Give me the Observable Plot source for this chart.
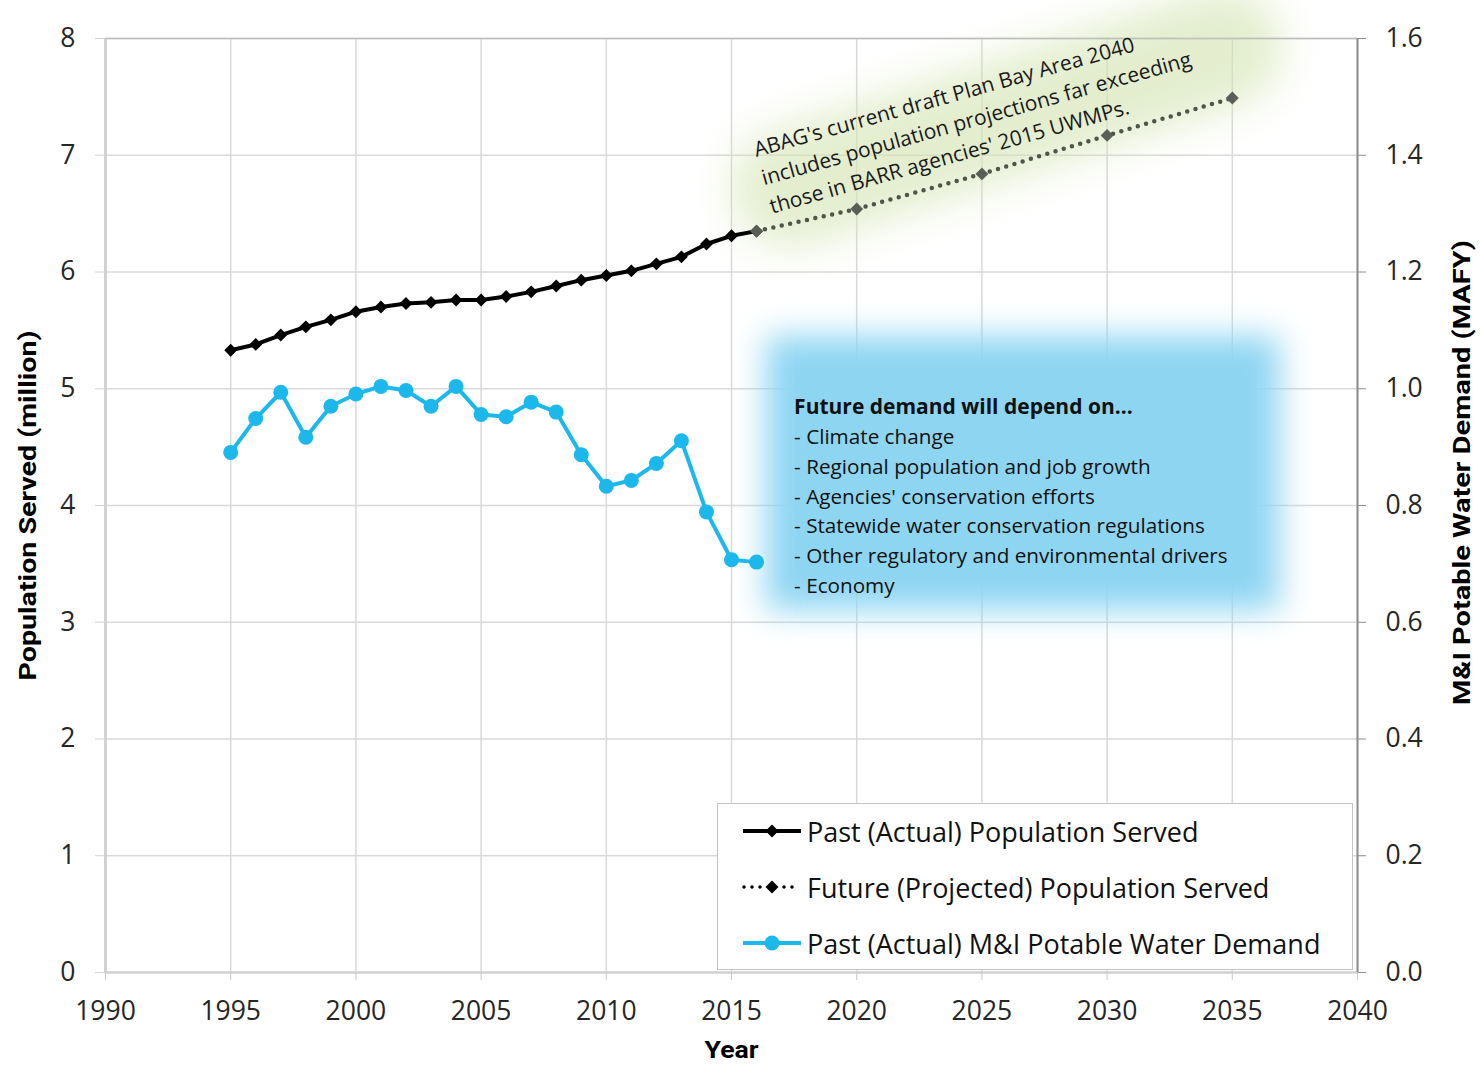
<!DOCTYPE html>
<html>
<head>
<meta charset="utf-8">
<script src="https://cdn.jsdelivr.net/npm/d3@7"></script>
<script src="https://cdn.jsdelivr.net/npm/@observablehq/plot@0.6"></script>
<style>
  body { margin: 0; background: #fff; }
  #chart { position: relative; width: 1480px; height: 1072px; overflow: hidden; }
  #chart svg { overflow: visible; }
  .legend {
    position: absolute; left: 717px; top: 803px; width: 636px; height: 167px;
    box-sizing: border-box; border: 1.5px solid #c4c4c4; background: #fff;
    font-family: "Open Sans", Lato, sans-serif; font-size: 27px; color: #111;
  }
  .legend .row { position: absolute; left: 24px; height: 30px; display: flex; align-items: center; white-space: nowrap; }
  .legend svg { margin-right: 5px; }
</style>
</head>
<body>
<div id="chart"></div>
<script>
// Population served by BARR agencies (million) and M&I potable water demand (MAFY)
const years = [1995, 1996, 1997, 1998, 1999, 2000, 2001, 2002, 2003, 2004, 2005,
               2006, 2007, 2008, 2009, 2010, 2011, 2012, 2013, 2014, 2015, 2016];
const populationServed = [5.33, 5.38, 5.46, 5.53, 5.59, 5.66, 5.70, 5.73, 5.74, 5.76, 5.76,
                          5.79, 5.83, 5.88, 5.93, 5.97, 6.01, 6.07, 6.13, 6.24, 6.31, 6.35];
const demandMAFY = [0.891, 0.949, 0.994, 0.917, 0.970, 0.991, 1.004, 0.997, 0.970, 1.004, 0.956,
                    0.952, 0.977, 0.960, 0.887, 0.833, 0.843, 0.872, 0.911, 0.789, 0.707, 0.703];

const projectionYears = [2016, 2020, 2025, 2030, 2035];
const projectedPopulation = [6.35, 6.54, 6.84, 7.17, 7.49];

const xTicks = [1990, 1995, 2000, 2005, 2010, 2015, 2020, 2025, 2030, 2035, 2040];
const populationTicks = [0, 1, 2, 3, 4, 5, 6, 7, 8];
const demandTicks = [0, 0.2, 0.4, 0.6, 0.8, 1.0, 1.2, 1.4, 1.6];

const abagNote = [
  "ABAG's current draft Plan Bay Area 2040",
  "includes population projections far exceeding",
  "those in BARR agencies' 2015 UWMPs."
];
const demandNoteTitle = "Future demand will depend on...";
const demandNoteItems = [
  "- Climate change",
  "- Regional population and job growth",
  "- Agencies' conservation efforts",
  "- Statewide water conservation regulations",
  "- Other regulatory and environmental drivers",
  "- Economy"
];

const legendLabels = [
  "Past (Actual) Population Served",
  "Future (Projected) Population Served",
  "Past (Actual) M&I Potable Water Demand"
];

const axisTitles = {
  left: "Population Served (million)",
  right: "M&I Potable Water Demand (MAFY)",
  bottom: "Year"
};

// 1.0 MAFY on the right axis sits level with 5 million people on the left
const PEOPLE_PER_MAFY = 5;

const BLUE = "#1cb8eb";
const FUTURE_GREY = "#50554b";
const SANS = "'Open Sans', Lato, sans-serif";

const past = years.map((year, i) => ({year, population: populationServed[i], demand: demandMAFY[i]}));
const projected = projectionYears.map((year, i) => ({year, population: projectedPopulation[i]}));

// soft highlights behind the two notes
const abagGlow = [{x1: 2017.4, y1: 6.72, x2: 2034.6, y2: 7.92}];
const demandGlow = [{x1: 2016.4, x2: 2036.9, y1: 3.1, y2: 5.45}];

const tickFont = {fontFamily: SANS, fontSize: 26.5, fill: "#262626"};
const titleFont = {fontFamily: "Roboto, 'Open Sans', sans-serif", fontSize: 24, fontWeight: "bold", fill: "#000"};

const chart = Plot.plot({
  width: 1480,
  height: 1072,
  marginLeft: 105,
  marginRight: 123,
  marginTop: 38,
  marginBottom: 100,
  x: {domain: [1990, 2040]},
  y: {domain: [0, 8]},
  style: {fontFamily: SANS, fontSize: "25px", color: "#262626", background: "#fff"},
  marks: [
    Plot.gridX(xTicks, {stroke: "#d9d9d9", strokeOpacity: 1, strokeWidth: 1.5}),
    Plot.gridY(populationTicks, {stroke: "#d9d9d9", strokeOpacity: 1, strokeWidth: 1.5}),

    Plot.link(abagGlow, {x1: "x1", y1: "y1", x2: "x2", y2: "y2", stroke: "#d3e4b2", strokeOpacity: 0.62,
      strokeWidth: 120, strokeLinecap: "round", imageFilter: "blur(20px)"}),
    Plot.rect(demandGlow, {x1: "x1", x2: "x2", y1: "y1", y2: "y2", fill: "#8ed5f2", imageFilter: "blur(16px)"}),

    // axis lines
    Plot.ruleX([1990], {stroke: "#d2d2d2", strokeWidth: 3}),
    Plot.ruleY([0], {stroke: "#d2d2d2", strokeWidth: 2.5}),
    Plot.ruleY([8], {stroke: "#bdbdbd", strokeWidth: 1.5}),
    Plot.ruleX([2040], {stroke: "#8c8c8c", strokeWidth: 2}),

    Plot.axisX(xTicks, {anchor: "bottom", tickSize: 8, tickPadding: 21, stroke: "#c8c8c8",
      tickFormat: d => String(d), label: null, ...tickFont}),
    Plot.axisY(populationTicks, {anchor: "left", tickSize: 10, tickPadding: 20, stroke: "#d2d2d2",
      tickFormat: d => String(d), label: null, ...tickFont}),
    Plot.axisY(demandTicks.map(v => v * PEOPLE_PER_MAFY), {anchor: "right", tickSize: 8, tickPadding: 20,
      stroke: "#8c8c8c", tickFormat: d => (d / PEOPLE_PER_MAFY).toFixed(1), label: null, ...tickFont}),

    // M&I potable water demand (right axis)
    Plot.line(past, {x: "year", y: d => d.demand * PEOPLE_PER_MAFY, stroke: BLUE, strokeWidth: 4}),
    Plot.dot(past, {x: "year", y: d => d.demand * PEOPLE_PER_MAFY, r: 7.5, fill: BLUE}),

    // population served, actual and projected
    Plot.line(past, {x: "year", y: "population", stroke: "#000", strokeWidth: 4}),
    Plot.dot(past, {x: "year", y: "population", symbol: "diamond2", r: 5.8, fill: "#000"}),
    Plot.line(projected, {x: "year", y: "population", stroke: FUTURE_GREY, strokeWidth: 4.5,
      strokeDasharray: "0 8.6", strokeLinecap: "round"}),
    Plot.dot(projected, {x: "year", y: "population", symbol: "diamond2", r: 5.8, fill: "#5a5e56"}),

    // notes
    Plot.text([abagNote.join("\n")], {x: 2016.2, y: 6.82, rotate: -15.6, textAnchor: "start",
      lineAnchor: "middle", lineHeight: 1.4, fontFamily: SANS, fontSize: 21, fill: "#1a1a1a"}),
    Plot.text([demandNoteTitle], {x: 2017.5, y: 4.84, textAnchor: "start", lineAnchor: "middle",
      fontFamily: SANS, fontSize: 21, fontWeight: "bold", fill: "#111"}),
    Plot.text([demandNoteItems.join("\n")], {x: 2017.5, y: 3.97, textAnchor: "start", lineAnchor: "middle",
      lineHeight: 1.44, fontFamily: SANS, fontSize: 20.7, fill: "#111"}),

    // axis titles
    Plot.text([axisTitles.left], {frameAnchor: "left", rotate: -90, dx: -77, textAnchor: "middle", ...titleFont}),
    Plot.text([axisTitles.right], {frameAnchor: "right", rotate: -90, dx: 105, dy: -33, textAnchor: "middle", ...titleFont}),
    Plot.text([axisTitles.bottom], {frameAnchor: "bottom", dy: 85, textAnchor: "middle", ...titleFont})
  ]
});

// the axis titles are set in a narrow bold face: stretch them to their full run length
const titleLengths = {[axisTitles.left]: 350, [axisTitles.right]: 465, [axisTitles.bottom]: 54};
d3.select(chart).selectAll("text").each(function() {
  const len = titleLengths[this.textContent];
  if (len) {
    this.setAttribute("textLength", len);
    this.setAttribute("lengthAdjust", "spacingAndGlyphs");
  }
});

const container = document.getElementById("chart");
container.appendChild(chart);

// legend
const legend = document.createElement("div");
legend.className = "legend";
const swatches = [
  `<svg width="60" height="20"><line x1="1" x2="59" y1="10" y2="10" stroke="#000" stroke-width="4"/><path d="M30,3.5L36.5,10L30,16.5L23.5,10Z" fill="#000"/></svg>`,
  `<svg width="60" height="20"><line x1="2" x2="58" y1="10" y2="10" stroke="#000" stroke-width="3.5" stroke-dasharray="0 8" stroke-linecap="round"/><rect x="22" y="3" width="16" height="14" fill="#fff"/><path d="M30,3.5L36.5,10L30,16.5L23.5,10Z" fill="#000"/></svg>`,
  `<svg width="60" height="20"><line x1="1" x2="59" y1="10" y2="10" stroke="${BLUE}" stroke-width="4"/><circle cx="30" cy="10" r="7.5" fill="${BLUE}"/></svg>`
];
legendLabels.forEach((label, i) => {
  const row = document.createElement("div");
  row.className = "row";
  row.style.top = (12 + i * 56) + "px";
  row.innerHTML = swatches[i] + `<span>${label.replace(/&/g, "&amp;")}</span>`;
  legend.appendChild(row);
});
container.appendChild(legend);
</script>
</body>
</html>
